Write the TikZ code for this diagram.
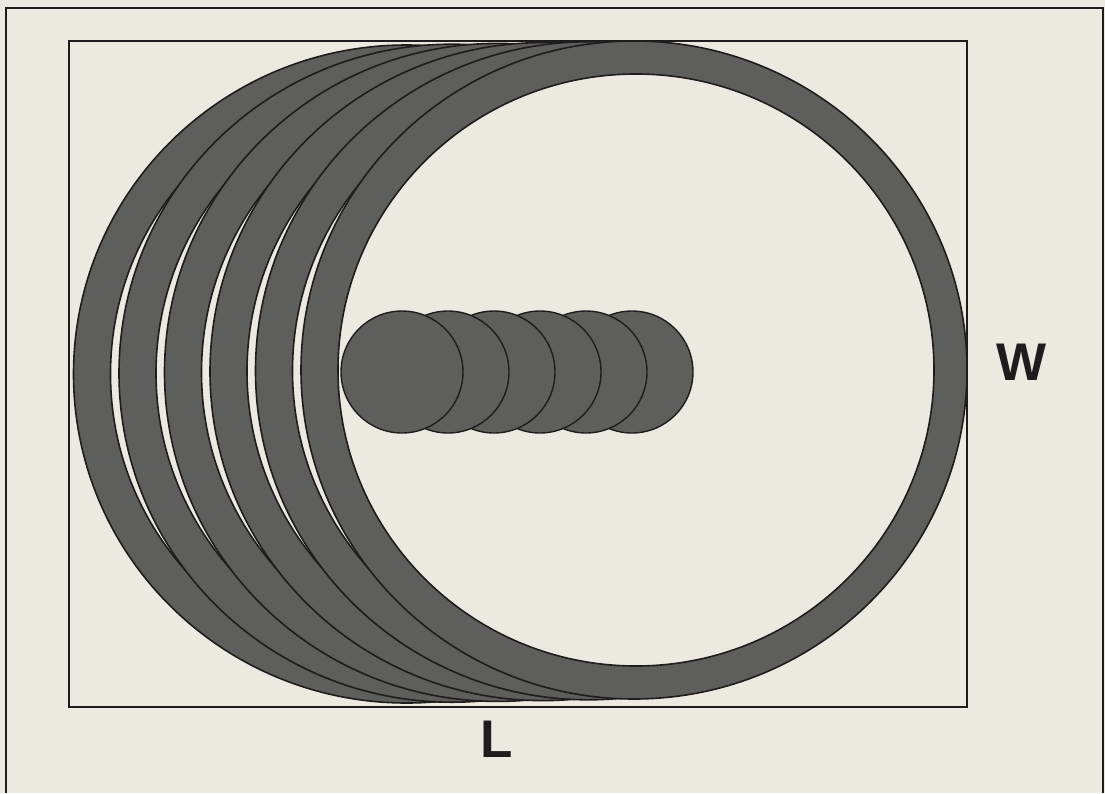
\documentclass[tikz,border=0pt]{standalone}
\usepackage{fontspec}
\setmainfont{Liberation Sans}
\definecolor{paper}{RGB}{236,234,224}
\definecolor{tone}{RGB}{94,94,92}
\definecolor{ink}{RGB}{30,28,28}
\begin{document}
\begin{tikzpicture}[x=1pt,y=-1pt,
  band/.style={fill=tone,draw=ink,line width=1.6pt},
  hole/.style={fill=paper,draw=ink,line width=1.6pt},
  disc/.style={fill=tone,draw=ink,line width=1.4pt},
  frame/.style={draw=ink,line width=2pt},
  lbl/.style={font=\fontsize{53}{60}\selectfont\bfseries,text=ink,inner sep=0pt}]
\fill[paper] (0,0) rectangle (1105,793);
\useasboundingbox (0,0) rectangle (1105,793);
% outer frame (open at bottom)
\draw[frame] (6,793) -- (6,8) -- (1103,8) -- (1103,793);
% inner rectangle
\draw[draw=ink,line width=1.6pt] (69,41) rectangle (967,707);
% rings, left to right
\foreach \k in {5,4,3,2,1,0}{
  \pgfmathsetmacro{\cx}{634-45.5*\k}
  \pgfmathsetmacro{\cy}{370+0.8*\k}
  \path[band] (\cx,\cy) ellipse [x radius=333pt, y radius=329pt];
  \path[hole] (\cx+2,\cy) ellipse [x radius=298pt, y radius=296pt];
}
% small discs, right to left
\foreach \k in {0,1,2,3,4,5}{
  \pgfmathsetmacro{\dx}{632-46*\k}
  \path[disc] (\dx,372) circle [radius=61pt];
}
\node[lbl] (W) at (1021,362) {W};
\node[lbl] (L) at (497,739) {L};
\end{tikzpicture}
\end{document}
